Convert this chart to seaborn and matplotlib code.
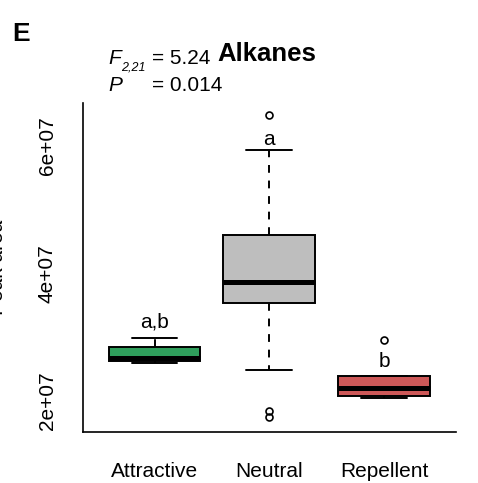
import pandas as pd
import numpy as np
import matplotlib
matplotlib.use("Agg")
import matplotlib.pyplot as plt
import seaborn as sns

# peak area per sample
groups = ["Attractive", "Neutral", "Repellent"]
attractive = [2.60e7, 2.635e7, 2.682e7, 2.842e7, 2.984e7]
neutral = [1.744e7, 1.848e7, 2.486e7, 3.542e7, 3.65e7, 3.76e7, 3.864e7,
           3.95e7, 4.20e7, 4.604e7, 5.10e7, 5.937e7, 6.486e7]
repellent = [2.042e7, 2.06e7, 2.10e7, 2.204e7, 2.392e7, 2.392e7, 2.96e7]
colors = ["#2F9F5C", "#BEBEBE", "#CD5858"]

# significance letters and where they sit
letters = ["a,b", "a", "b"]
letter_y = [3.16e7, 6.016e7, 2.529e7]

yticks = [2e7, 3e7, 4e7, 5e7, 6e7]
ytick_labels = ["2e+07", "", "4e+07", "", "6e+07"]

df = pd.DataFrame({
    "group": ["Attractive"] * len(attractive) + ["Neutral"] * len(neutral) + ["Repellent"] * len(repellent),
    "area": attractive + neutral + repellent,
})

sns.set_style("white")
plt.rcParams["font.family"] = ["Liberation Sans", "DejaVu Sans"]
plt.rcParams["text.color"] = "black"
plt.rcParams["axes.labelcolor"] = "black"
plt.rcParams["xtick.color"] = "black"
plt.rcParams["ytick.color"] = "black"

fig = plt.figure(figsize=(4.78, 4.83), dpi=100)
ax = fig.add_axes([0.1743, 0.1062, 0.7797, 0.6805])

sns.boxplot(data=df, x="group", y="area", hue="group", order=groups, hue_order=groups,
            palette=colors, saturation=1, width=0.8, linecolor="black", linewidth=1.4,
            whis=1.5, legend=False, ax=ax,
            whiskerprops={"linestyle": (0, (4, 4))},
            medianprops={"linewidth": 3.6, "color": "black"},
            flierprops={"marker": "o", "markersize": 5, "markerfacecolor": "none",
                        "markeredgecolor": "black", "markeredgewidth": 1.2})

ax.set_xlim(-0.62, 2.626)
ax.set_ylim(1.52e7, 6.675e7)
ax.set_yticks(yticks)
ax.set_yticklabels(ytick_labels, rotation=90, va="center")
ax.set_xlabel("")
ax.set_ylabel("")
for s in ["top", "right"]:
    ax.spines[s].set_visible(False)
for s in ["left", "bottom"]:
    ax.spines[s].set_linewidth(1.2)
    ax.spines[s].set_color("black")
ax.tick_params(axis="both", direction="out", length=9, width=1.1, color="black",
               labelsize=15, labelcolor="black")
ax.tick_params(axis="x", pad=13)
ax.tick_params(axis="y", pad=10)

for i, (t, y) in enumerate(zip(letters, letter_y)):
    ax.text(i, y, t, ha="center", va="baseline", fontsize=15, color="black")

# panel label, stats and title
W, H = 478, 483
fig.text(12 / W, 1 - 41 / H, "E", fontsize=19, weight="bold", va="baseline")
fig.text(217 / W, 1 - 60.7 / H, "Alkanes", fontsize=18.5, weight="bold", va="baseline")
fig.text(108 / W, 1 - 64.3 / H, "F", fontsize=15, style="italic", va="baseline")
fig.text(121.5 / W, 1 - 71 / H, "2,21", fontsize=9, style="italic", va="baseline")
fig.text(152 / W, 1 - 64.3 / H, "= 5.24", fontsize=15, va="baseline")
fig.text(108 / W, 1 - 90.7 / H, "P", fontsize=15, style="italic", va="baseline")
fig.text(152 / W, 1 - 90.7 / H, "= 0.014", fontsize=15, va="baseline")
# y label sits mostly outside the figure, as in the reference
fig.text(7.5 / W, 1 - 267 / H, "Peak area", fontsize=15, rotation=90, ha="right", va="center")

fig.savefig("out.png", dpi=100)
